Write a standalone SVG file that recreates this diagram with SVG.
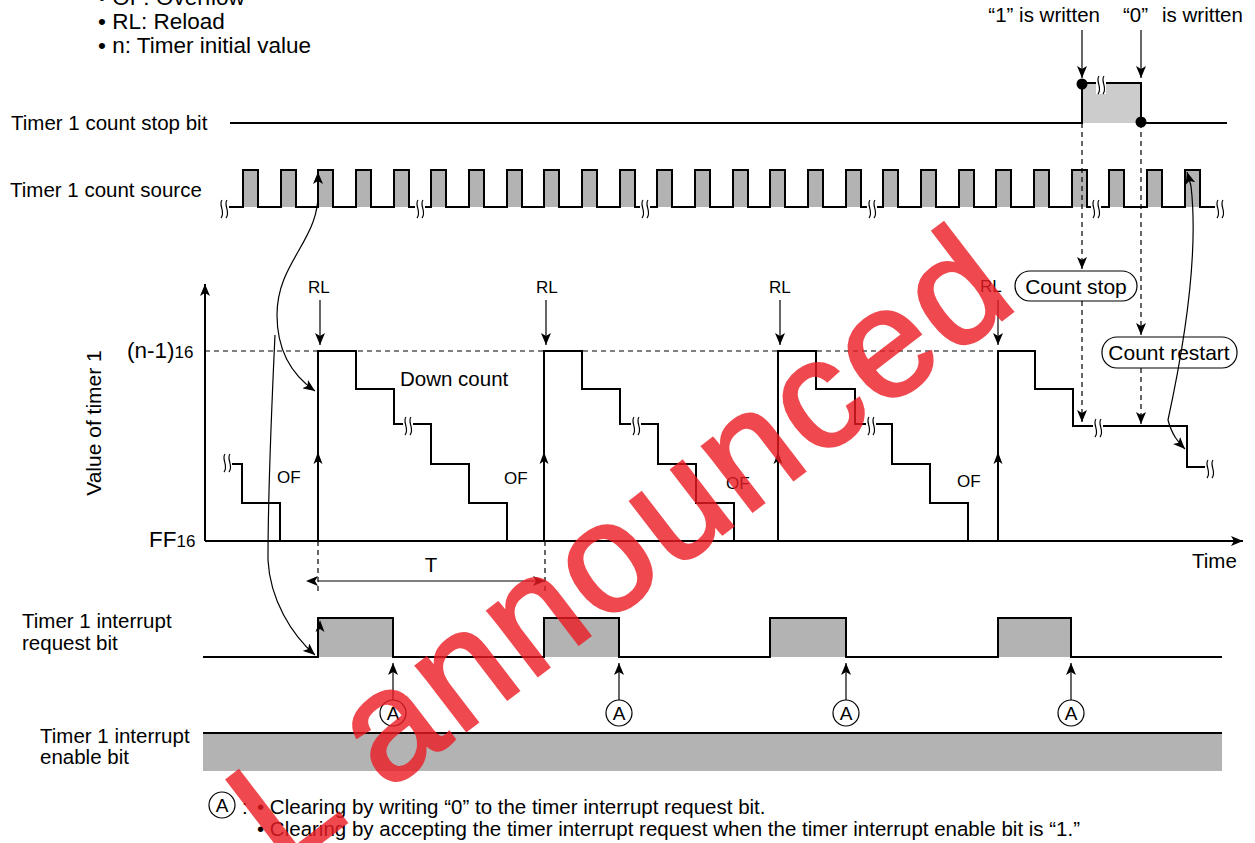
<svg xmlns="http://www.w3.org/2000/svg" width="1255" height="843" viewBox="0 0 1255 843">
<defs>
<style>
text{font-family:"Liberation Sans",Arial,sans-serif;fill:#000}
.lbl{font-size:20.5px}
.top{font-size:22.5px}
.sm{font-size:17px}
.ln{fill:none;stroke:#000;stroke-width:2}
.th{fill:none;stroke:#000;stroke-width:1.2}
.ds{fill:none;stroke:#000;stroke-width:1.2;stroke-dasharray:5 4}
.g{fill:#b3b3b3}
.lg{fill:#cccccc}
.brk{fill:none;stroke:#000;stroke-width:1.2}
.ca{fill:#fff;stroke:#000;stroke-width:1.2}
.wm{font-family:"Liberation Sans",Arial,sans-serif;font-size:155px;letter-spacing:4px;fill:#ec1c24;stroke:#ec1c24;stroke-width:3;opacity:0.8}
</style>
<marker id="ah" viewBox="0 0 12 10" refX="12" refY="5" markerWidth="12" markerHeight="10" markerUnits="userSpaceOnUse" orient="auto"><path d="M0,0 L12,5 L0,10 L3,5 Z" fill="#000"/></marker>
<marker id="ahs" viewBox="0 0 12 10" refX="0" refY="5" markerWidth="12" markerHeight="10" markerUnits="userSpaceOnUse" orient="auto-start-reverse"><path d="M0,0 L12,5 L0,10 L3,5 Z" fill="#000"/></marker>
<g id="brk"><rect x="-2" y="-9" width="10" height="18" fill="#fff"/><path class="brk" d="M1,-9 C-3,-4 5,3 0,9 M6,-9 C2,-4 10,3 5,9"/></g>
<path id="upA" d="M0,0 L-4.5,12 L0,9 L4.5,12 Z" fill="#000"/>
</defs>
<rect width="1255" height="843" fill="#fff"/>

<g id="legend-top">
<text class="top" x="98" y="5">• OF: Overflow</text>
<text class="top" x="98" y="29">• RL: Reload</text>
<text class="top" x="98" y="53">• n: Timer initial value</text>
</g>

<g id="stop-bit">
<text class="lbl" x="11" y="130">Timer 1 count stop bit</text>
<rect class="lg" x="1082" y="83" width="59" height="40"/>
<path class="ln" d="M230,123 H1082 V83 H1141 V123 H1227"/>
<use href="#brk" x="1098" y="85"/>
<circle cx="1082" cy="84" r="5.5"/>
<circle cx="1141" cy="122" r="5.5"/>
<text class="lbl" x="1100" y="22" text-anchor="end">“1” is written</text>
<text class="lbl" x="1123" y="22">“0”</text>
<text class="lbl" x="1162" y="22">is written</text>
</g>

<g id="count-source">
<text class="lbl" x="10" y="197">Timer 1 count source</text>
<g class="g">
<rect x="243" y="170" width="15" height="37"/><rect x="281" y="170" width="15" height="37"/><rect x="318" y="170" width="15" height="37"/><rect x="356" y="170" width="15" height="37"/><rect x="394" y="170" width="15" height="37"/>
<rect x="431" y="170" width="15" height="37"/><rect x="469" y="170" width="15" height="37"/><rect x="507" y="170" width="15" height="37"/><rect x="544" y="170" width="15" height="37"/><rect x="582" y="170" width="15" height="37"/><rect x="620" y="170" width="15" height="37"/>
<rect x="657" y="170" width="15" height="37"/><rect x="695" y="170" width="15" height="37"/><rect x="733" y="170" width="15" height="37"/><rect x="770" y="170" width="15" height="37"/><rect x="808" y="170" width="15" height="37"/><rect x="846" y="170" width="15" height="37"/>
<rect x="883" y="170" width="15" height="37"/><rect x="921" y="170" width="15" height="37"/><rect x="959" y="170" width="15" height="37"/><rect x="996" y="170" width="15" height="37"/><rect x="1034" y="170" width="15" height="37"/><rect x="1072" y="170" width="15" height="37"/>
<rect x="1109" y="170" width="15" height="37"/><rect x="1147" y="170" width="15" height="37"/><rect x="1185" y="170" width="15" height="37"/>
</g>
<path class="ln" d="M228,207 H243 V170 H258 V207 H281 V170 H296 V207 H318 V170 H333 V207 H356 V170 H371 V207 H394 V170 H409 V207 H417"/>
<path class="ln" d="M423,207 H431 V170 H446 V207 H469 V170 H484 V207 H507 V170 H522 V207 H544 V170 H559 V207 H582 V170 H597 V207 H620 V170 H635 V207 H642"/>
<path class="ln" d="M648,207 H657 V170 H672 V207 H695 V170 H710 V207 H733 V170 H748 V207 H770 V170 H785 V207 H808 V170 H823 V207 H846 V170 H861 V207 H869"/>
<path class="ln" d="M875,207 H883 V170 H898 V207 H921 V170 H936 V207 H959 V170 H974 V207 H996 V170 H1011 V207 H1034 V170 H1049 V207 H1072 V170 H1087 V207 H1093"/>
<path class="ln" d="M1099,207 H1109 V170 H1124 V207 H1147 V170 H1162 V207 H1185 V170 H1200 V207 H1217"/>
<use href="#brk" x="221" y="209"/>
<use href="#brk" x="417" y="209"/>
<use href="#brk" x="642" y="209"/>
<use href="#brk" x="869" y="209"/>
<use href="#brk" x="1093" y="209"/>
<use href="#brk" x="1217" y="209"/>
</g>

<g id="timer-value">
<path class="ln" d="M205,541 V284" marker-end="url(#ah)"/>
<path class="ln" d="M205,541 H1243" marker-end="url(#ah)"/>
<path class="ds" d="M205,351 H998"/>
<text x="101" y="423" font-size="21" text-anchor="middle" transform="rotate(-90 101 423)">Value of timer 1</text>
<text x="127" y="358" font-size="22.5">(n-1)<tspan font-size="17">16</tspan></text>
<text x="149" y="547" font-size="22.5">FF<tspan font-size="17">16</tspan></text>
<text class="lbl" x="1192" y="568">Time</text>
<text class="lbl" x="400" y="386">Down count</text>
<path class="ln" d="M229,464 H242 V503 H280 V541"/>
<path class="ln" d="M318,541 V351 H356 V389 H394 V424 H405 M411,424 H431 V464 H469 V503 H507 V541"/>
<path class="ln" d="M544,541 V351 H582 V389 H620 V424 H633 M639,424 H658 V464 H696 V503 H734 V541"/>
<path class="ln" d="M778,541 V351 H816 V389 H855 V424 H868 M874,424 H892 V464 H930 V503 H968 V541"/>
<path class="ln" d="M998,541 V351 H1035 V389 H1073 V426 H1095 M1101,426 H1187 V467 H1207"/>
<use href="#brk" x="224" y="463"/>
<use href="#brk" x="405" y="426"/>
<use href="#brk" x="633" y="426"/>
<use href="#brk" x="868" y="426"/>
<use href="#brk" x="1095" y="428"/>
<use href="#brk" x="1207" y="469"/>
<use href="#upA" x="318" y="452"/>
<use href="#upA" x="544" y="452"/>
<use href="#upA" x="778" y="452"/>
<use href="#upA" x="998" y="452"/>
<text class="sm" x="277" y="483">OF</text>
<text class="sm" x="504" y="484">OF</text>
<text class="sm" x="726" y="489">OF</text>
<text class="sm" x="957" y="487">OF</text>
<text class="sm" x="308" y="293">RL</text>
<text class="sm" x="536" y="293">RL</text>
<text class="sm" x="769" y="293">RL</text>
<text class="sm" x="980" y="292">RL</text>
</g>

<g id="count-stop">
<rect class="ca" x="1015" y="271" width="122" height="30" rx="15"/>
<text x="1076" y="294" font-size="21" text-anchor="middle">Count stop</text>
</g>
<g id="count-restart">
<rect class="ca" x="1102" y="337" width="135" height="31" rx="15"/>
<text x="1169" y="360" font-size="21" text-anchor="middle">Count restart</text>
</g>

<g id="interrupt-request">
<text class="lbl" x="22" y="628">Timer 1 interrupt</text>
<text class="lbl" x="22" y="650">request bit</text>
<rect class="g" x="318" y="618" width="75" height="39"/>
<rect class="g" x="544" y="618" width="75" height="39"/>
<rect class="g" x="770" y="618" width="76" height="39"/>
<rect class="g" x="998" y="618" width="73" height="39"/>
<path class="ln" d="M203,657 H318 V618 H393 V657 H544 V618 H619 V657 H770 V618 H846 V657 H998 V618 H1071 V657 H1222"/>
<use href="#upA" x="320" y="620"/>
</g>

<g id="markers-A">
<circle class="ca" cx="393" cy="713" r="13"/><text x="393" y="720" font-size="19" text-anchor="middle">A</text>
<circle class="ca" cx="619" cy="713" r="13"/><text x="619" y="720" font-size="19" text-anchor="middle">A</text>
<circle class="ca" cx="846" cy="713" r="13"/><text x="846" y="720" font-size="19" text-anchor="middle">A</text>
<circle class="ca" cx="1071" cy="713" r="13"/><text x="1071" y="720" font-size="19" text-anchor="middle">A</text>
</g>

<g id="enable-bit">
<text class="lbl" x="40" y="743">Timer 1 interrupt</text>
<text class="lbl" x="40" y="764">enable bit</text>
<rect class="g" x="203" y="733" width="1019" height="38"/>
<path class="ln" d="M203,733 H1222"/>
</g>

<g id="legend-bottom">
<circle class="ca" cx="222" cy="805" r="13"/>
<text x="222" y="812" font-size="19" text-anchor="middle">A</text>
<text class="lbl" x="242" y="814">:</text>
<text class="lbl" x="257" y="814">• Clearing by writing “0” to the timer interrupt request bit.</text>
<text class="lbl" x="257" y="836">• Clearing by accepting the timer interrupt request when the timer interrupt enable bit is “1.”</text>
</g>

<g id="connectors">
<path class="th" d="M1082,30 V78" marker-end="url(#ah)"/>
<path class="th" d="M1141,30 V78" marker-end="url(#ah)"/>
<path class="th" d="M320,300 V345" marker-end="url(#ah)"/>
<path class="th" d="M546,300 V345" marker-end="url(#ah)"/>
<path class="th" d="M780,300 V345" marker-end="url(#ah)"/>
<path class="th" d="M998,300 V345" marker-end="url(#ah)"/>
<path class="ds" d="M1082,123 V269" marker-end="url(#ah)"/>
<path class="ds" d="M1082,301 V422" marker-end="url(#ah)"/>
<path class="ds" d="M1141,123 V335" marker-end="url(#ah)"/>
<path class="ds" d="M1141,368 V424" marker-end="url(#ah)"/>
<path class="ds" d="M318,541 V592 M545,541 V592"/>
<path class="th" d="M318,581 H545" marker-start="url(#ahs)" marker-end="url(#ah)"/>
<text class="lbl" x="431" y="572" text-anchor="middle">T</text>
<path class="th" d="M318,186 C322,240 277,260 277,315 C277,350 292,375 315,391" marker-end="url(#ah)"/>
<path class="th" d="M275,335 C271,420 268,500 268,560 C270,600 292,635 315,655" marker-end="url(#ah)"/>
<path class="th" d="M318,186 V172" marker-end="url(#ah)"/>
<path class="th" d="M1191,186 C1196,230 1194,300 1168,420 C1172,435 1178,442 1185,449" marker-end="url(#ah)"/>
<path class="th" d="M1191,186 L1187,172" marker-end="url(#ah)"/>
<path class="th" d="M393,700 V663" marker-end="url(#ah)"/>
<path class="th" d="M619,700 V663" marker-end="url(#ah)"/>
<path class="th" d="M846,700 V663" marker-end="url(#ah)"/>
<path class="th" d="M1071,700 V663" marker-end="url(#ah)"/>
</g>

<text class="wm" transform="translate(282,872) rotate(-37.5)">L announced</text>
</svg>
